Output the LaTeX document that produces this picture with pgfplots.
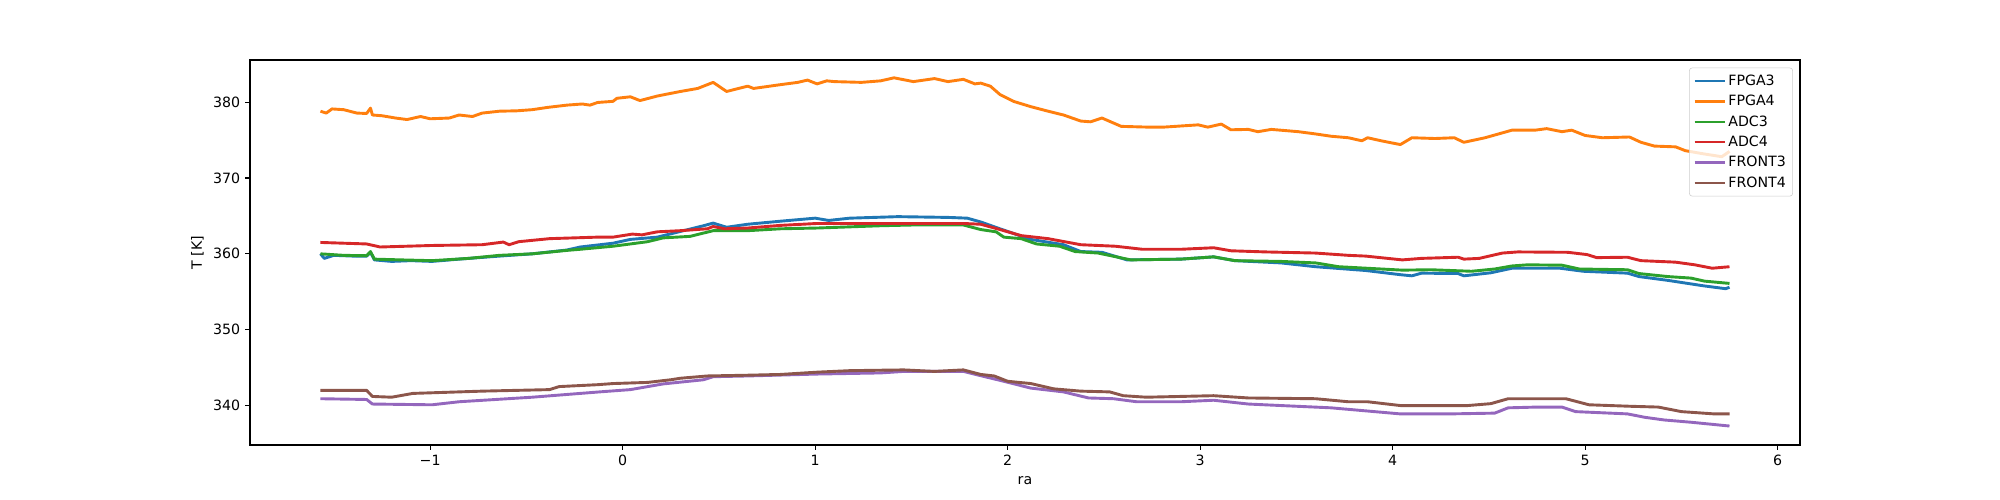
\documentclass[border=0pt]{standalone}
\usepackage{fontspec}
\setmainfont{DejaVu Sans}
\usepackage{pgfplots}
\pgfplotsset{compat=1.18}
\definecolor{c0}{HTML}{1F77B4}
\definecolor{c1}{HTML}{FF7F0E}
\definecolor{c2}{HTML}{2CA02C}
\definecolor{c3}{HTML}{D62728}
\definecolor{c4}{HTML}{9467BD}
\definecolor{c5}{HTML}{8C564B}
\definecolor{lgframe}{HTML}{CCCCCC}
\newcommand{\mplfont}{\fontsize{10.2bp}{12bp}\selectfont}
\begin{document}
\begin{tikzpicture}
\begin{axis}[
  scale only axis,
  width=15.5in, height=3.85in,
  xmin=-1.936, xmax=6.116,
  ymin=334.8, ymax=385.55,
  xtick={-1,0,1,2,3,4,5,6},
  xticklabels={−1,0,1,2,3,4,5,6},
  ytick={340,350,360,370,380},
  yticklabels={340,350,360,370,380},
  tick pos=left,
  tick align=outside,
  major tick length=3.5pt,
  every tick/.style={black, line width=0.8pt},
  axis line style={line width=0.8pt},
  tick label style={font=\mplfont},
  label style={font=\mplfont},
  xlabel={ra},
  xlabel style={yshift=-1.5pt},
  ylabel={T [K]},
  legend style={at={(0.9955,0.98)}, anchor=north east,
    draw=lgframe, rounded corners=2pt, fill=white, fill opacity=0.8,
    text opacity=1, font=\mplfont, row sep=1.6pt, inner xsep=3pt, inner ysep=3pt},
  legend cell align=left,
  legend image code/.code={\draw[#1, line width=1.5pt] (0pt,0pt)--(21.7pt,0pt);},
  every axis plot/.append style={line width=2.1pt, line join=round},
]
\coordinate (ll) at (rel axis cs:0,0);
% FPGA3
\addplot[c0] coordinates {
(-1.57,360.0) (-1.55,359.4) (-1.50,359.8) (-1.40,359.7) (-1.33,359.7) (-1.31,360.2) (-1.29,359.2)
(-1.20,359.0) (-1.10,359.1) (-0.99,359.0) (-0.85,359.3) (-0.64,359.7) (-0.47,360.0) (-0.29,360.5)
(-0.22,360.9) (-0.05,361.4) (0.04,361.9) (0.18,362.2) (0.30,362.95) (0.42,363.7) (0.47,364.05)
(0.54,363.5) (0.65,363.9) (0.82,364.3) (1.00,364.7) (1.07,364.4) (1.18,364.7) (1.43,364.9)
(1.69,364.8) (1.79,364.7) (1.86,364.2) (1.96,363.3) (2.12,361.9) (2.29,361.2) (2.38,360.3)
(2.49,360.2) (2.62,359.2) (2.90,359.3) (3.07,359.6) (3.18,359.1) (3.42,358.8) (3.60,358.3)
(3.86,357.8) (4.04,357.25) (4.10,357.1) (4.15,357.45) (4.34,357.4) (4.37,357.1) (4.51,357.5)
(4.62,358.1) (4.87,358.1) (4.99,357.7) (5.22,357.45) (5.28,357.0) (5.43,356.5) (5.61,355.8)
(5.73,355.4) (5.75,355.6)
};
\addlegendentry{FPGA3}
% FPGA4
\addplot[c1] coordinates {
(-1.57,378.8) (-1.54,378.55) (-1.51,379.1) (-1.45,379.0) (-1.38,378.55) (-1.33,378.5) (-1.31,379.2)
(-1.30,378.3) (-1.25,378.2) (-1.18,377.9) (-1.12,377.7) (-1.05,378.1) (-1.00,377.8) (-0.90,377.9)
(-0.85,378.3) (-0.78,378.1) (-0.73,378.55) (-0.64,378.8) (-0.55,378.85) (-0.47,379.0) (-0.39,379.3)
(-0.29,379.6) (-0.21,379.75) (-0.17,379.6) (-0.13,379.95) (-0.05,380.1) (-0.03,380.5) (0.04,380.7)
(0.09,380.2) (0.18,380.8) (0.30,381.4) (0.39,381.8) (0.44,382.3) (0.47,382.6) (0.54,381.4)
(0.65,382.1) (0.68,381.8) (0.82,382.3) (0.91,382.6) (0.96,382.9) (1.01,382.4) (1.06,382.8)
(1.10,382.7) (1.24,382.6) (1.34,382.8) (1.41,383.2) (1.51,382.7) (1.62,383.1) (1.69,382.7)
(1.77,383.0) (1.83,382.4) (1.86,382.5) (1.91,382.1) (1.96,381.0) (2.03,380.1) (2.12,379.4)
(2.21,378.8) (2.29,378.3) (2.38,377.5) (2.43,377.4) (2.49,377.9) (2.59,376.8) (2.73,376.7)
(2.81,376.7) (2.99,377.0) (3.04,376.7) (3.11,377.1) (3.16,376.35) (3.25,376.4) (3.30,376.1)
(3.37,376.4) (3.51,376.1) (3.60,375.8) (3.68,375.5) (3.77,375.3) (3.84,374.9) (3.87,375.3)
(3.94,374.9) (4.04,374.4) (4.10,375.3) (4.22,375.2) (4.32,375.3) (4.37,374.7) (4.48,375.3)
(4.62,376.3) (4.74,376.3) (4.80,376.5) (4.88,376.1) (4.93,376.3) (5.00,375.6) (5.09,375.3)
(5.23,375.4) (5.29,374.7) (5.36,374.2) (5.47,374.1) (5.52,373.6) (5.61,373.2) (5.71,372.8)
(5.75,373.5)
};
\addlegendentry{FPGA4}
% ADC3
\addplot[c2] coordinates {
(-1.57,360.0) (-1.45,359.8) (-1.33,359.75) (-1.31,360.3) (-1.29,359.3) (-1.15,359.2) (-0.99,359.1)
(-0.80,359.4) (-0.64,359.8) (-0.47,360.0) (-0.29,360.45) (-0.22,360.6) (-0.05,361.0) (0.13,361.6)
(0.21,362.1) (0.35,362.3) (0.47,363.05) (0.65,363.05) (0.82,363.3) (1.01,363.4) (1.34,363.7)
(1.51,363.8) (1.77,363.8) (1.86,363.2) (1.94,362.9) (1.98,362.2) (2.07,362.0) (2.15,361.3)
(2.27,361.0) (2.35,360.3) (2.47,360.1) (2.64,359.2) (2.90,359.3) (3.07,359.6) (3.18,359.1)
(3.42,359.0) (3.60,358.8) (3.72,358.3) (3.94,358.0) (4.05,357.85) (4.20,357.9) (4.41,357.7)
(4.53,358.0) (4.62,358.4) (4.70,358.55) (4.88,358.5) (4.97,358.0) (5.22,357.9) (5.28,357.4)
(5.43,357.0) (5.55,356.8) (5.62,356.4) (5.75,356.1)
};
\addlegendentry{ADC3}
% ADC4
\addplot[c3] coordinates {
(-1.57,361.5) (-1.33,361.3) (-1.26,360.9) (-0.99,361.1) (-0.73,361.2) (-0.62,361.55) (-0.59,361.2)
(-0.54,361.6) (-0.38,362.0) (-0.13,362.2) (-0.05,362.2) (0.05,362.6) (0.10,362.5) (0.18,362.9)
(0.30,363.05) (0.44,363.3) (0.47,363.6) (0.53,363.3) (0.65,363.4) (0.82,363.75) (1.01,364.0)
(1.34,364.0) (1.77,364.0) (1.86,363.9) (1.96,363.2) (2.07,362.4) (2.21,362.0) (2.38,361.2)
(2.56,361.0) (2.70,360.6) (2.90,360.6) (3.07,360.8) (3.16,360.4) (3.34,360.25) (3.60,360.1)
(3.77,359.8) (3.86,359.7) (4.05,359.2) (4.15,359.4) (4.34,359.55) (4.37,359.3) (4.45,359.4)
(4.57,360.1) (4.65,360.25) (4.91,360.2) (5.01,359.9) (5.06,359.5) (5.22,359.55) (5.29,359.1)
(5.47,358.9) (5.57,358.55) (5.66,358.1) (5.75,358.3)
};
\addlegendentry{ADC4}
% FRONT3
\addplot[c4] coordinates {
(-1.57,340.9) (-1.33,340.8) (-1.30,340.2) (-0.99,340.1) (-0.85,340.5) (-0.47,341.1) (-0.22,341.6)
(-0.12,341.8) (0.04,342.1) (0.21,342.85) (0.42,343.4) (0.47,343.8) (0.65,343.9) (1.01,344.15)
(1.34,344.3) (1.46,344.5) (1.77,344.5) (1.85,344.0) (1.98,343.2) (2.12,342.3) (2.29,341.8)
(2.42,341.0) (2.55,340.9) (2.67,340.5) (2.90,340.5) (3.07,340.7) (3.25,340.2) (3.42,340.0)
(3.68,339.7) (3.86,339.3) (4.04,338.9) (4.30,338.9) (4.53,339.0) (4.60,339.7) (4.75,339.8)
(4.88,339.8) (4.95,339.2) (5.22,338.9) (5.31,338.45) (5.41,338.1) (5.55,337.8) (5.75,337.3)
};
\addlegendentry{FRONT3}
% FRONT4
\addplot[c5] coordinates {
(-1.57,342.0) (-1.33,342.0) (-1.30,341.2) (-1.20,341.1) (-1.09,341.6) (-0.73,341.9) (-0.38,342.1)
(-0.33,342.5) (-0.13,342.75) (-0.05,342.9) (0.13,343.05) (0.25,343.4) (0.30,343.6) (0.44,343.9)
(0.65,344.0) (0.82,344.1) (1.01,344.4) (1.18,344.6) (1.46,344.7) (1.62,344.5) (1.77,344.7)
(1.86,344.1) (1.93,343.9) (2.00,343.2) (2.12,342.9) (2.24,342.2) (2.38,341.9) (2.53,341.8)
(2.60,341.3) (2.72,341.1) (3.07,341.3) (3.25,341.0) (3.60,340.9) (3.77,340.5) (3.87,340.5)
(4.04,340.0) (4.39,340.0) (4.51,340.25) (4.60,340.9) (4.90,340.9) (5.02,340.1) (5.24,339.9)
(5.38,339.8) (5.50,339.2) (5.67,338.9) (5.75,338.9)
};
\addlegendentry{FRONT4}
\end{axis}
\pgfresetboundingbox
\path (ll) ++(-2.5in,-0.55in) rectangle ++(20in,5in);
\end{tikzpicture}
\end{document}
